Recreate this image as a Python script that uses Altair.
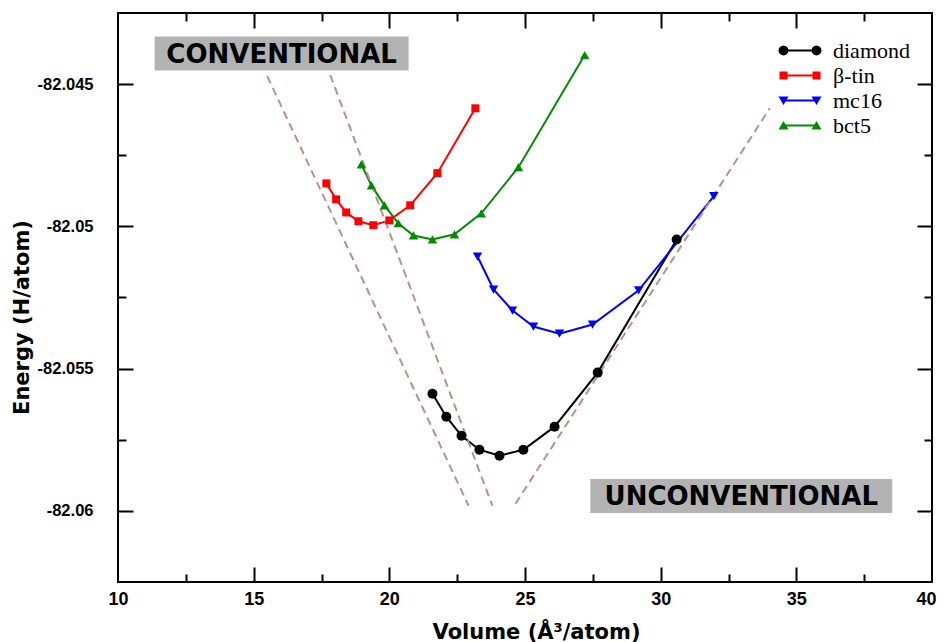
import math
import altair as alt
import pandas as pd

# ---------------- data ----------------
series_names = ["diamond", "β-tin", "mc16", "bct5"]
series_colors = ["#000000", "#ff0000", "#0000ff", "#008b00"]
series_shapes = ["circle", "square", "triangle-down", "triangle-up"]
series_sizes = [100, 64, 90, 90]

diamond_volume = [21.59, 22.10, 22.66, 23.32, 24.06, 24.94, 26.09, 27.68, 30.59]
diamond_energy = [-82.05588, -82.05669, -82.05736, -82.05785, -82.05806, -82.05785, -82.05704, -82.05514, -82.05046]
btin_volume = [17.68, 18.04, 18.41, 18.86, 19.41, 20.00, 20.77, 21.77, 23.17]
btin_energy = [-82.04849, -82.04905, -82.04951, -82.04982, -82.04996, -82.04979, -82.04926, -82.04813, -82.04585]
mc16_volume = [23.25, 23.84, 24.54, 25.31, 26.27, 27.49, 29.19, 31.96]
mc16_energy = [-82.05106, -82.05222, -82.05296, -82.05352, -82.05377, -82.05345, -82.05225, -82.04894]
bct5_volume = [18.97, 19.34, 19.82, 20.33, 20.89, 21.59, 22.40, 23.39, 24.76, 27.20]
bct5_energy = [-82.04782, -82.04856, -82.04926, -82.04989, -82.05032, -82.05046, -82.05028, -82.04954, -82.04792, -82.04398]

guide_volume = [[15.50, 22.92], [17.82, 23.80], [24.65, 34.02]]
guide_energy = [[-82.04472, -82.05982], [-82.04468, -82.05982], [-82.05975, -82.04585]]

ann_text = ["CONVENTIONAL", "UNCONVENTIONAL"]
ann_volume = [16.03, 32.97]
ann_energy = [-82.04426, -82.05981]

x_label_values = [10, 15, 20, 25, 30, 35, 40]
y_label_values = [-82.06, -82.055, -82.05, -82.045]
x_tick_values = [12.5, 15, 17.5, 20, 22.5, 25, 27.5, 30, 32.5, 35, 37.5]
y_tick_values = [-82.06, -82.0575, -82.055, -82.0525, -82.05, -82.0475, -82.045]

# ---------------- tables ----------------
rows = []
for name, vols, ens in zip(series_names,
                           [diamond_volume, btin_volume, mc16_volume, bct5_volume],
                           [diamond_energy, btin_energy, mc16_energy, bct5_energy]):
    for i, (v, e) in enumerate(zip(vols, ens)):
        rows.append({"series": name, "volume": v, "energy": e, "idx": i})
curves = pd.DataFrame(rows)

grows = []
for s, (vols, ens) in enumerate(zip(guide_volume, guide_energy)):
    for i, (v, e) in enumerate(zip(vols, ens)):
        grows.append({"seg": s, "volume": v, "energy": e, "idx": i})
guides = pd.DataFrame(grows)

ann = pd.DataFrame({"label": ann_text, "volume": ann_volume, "energy": ann_energy})

# ---------------- styling ----------------
W, H = 814, 569
x_scale = alt.Scale(domain=[10, 40], nice=False, zero=False)
y_scale = alt.Scale(domain=[-82.0625, -82.0425], nice=False, zero=False)
color_scale = alt.Scale(domain=series_names, range=series_colors)

x_label_axis = alt.Axis(
    orient="bottom", values=x_label_values, format="d", labelFlush=False,
    labelFont="Liberation Sans", labelFontWeight="bold", labelFontSize=18,
    labelColor="black", labelPadding=8, ticks=False, tickSize=0, domain=False,
    labelOffset={"condition": {"test": "datum.value === 40", "value": -6}, "value": 0},
    grid=False, title="Volume (Å³/atom)", titleFont="DejaVu Sans",
    titleFontWeight="bold", titleFontSize=21, titleColor="black",
    titleX=418, titleY=56, titleBaseline="alphabetic", titleAlign="center")

y_label_axis = alt.Axis(
    orient="left", values=y_label_values,
    labelExpr="replace(format(datum.value, '.3~f'), '\u2212', '-')",
    labelFlush=False, labelFont="Liberation Sans", labelFontWeight="bold",
    labelFontSize=16.5, labelColor="black", labelPadding=25, ticks=False,
    tickSize=0, domain=False, grid=False, title="Energy (H/atom)",
    titleFont="DejaVu Sans", titleFontWeight="bold", titleFontSize=21,
    titleColor="black", titleX=-86, titleY=304, titleBaseline="bottom",
    titleAlign="center", titleAngle=270)

x_major = "datum.value % 5 === 0"
y_major = "abs(datum.value * 200 - round(datum.value * 200)) < 0.01"


def tick_axis(orient, offset, values, test):
    return alt.Axis(orient=orient, offset=offset, values=values, labels=False,
                    domain=False, grid=False, title=None, ticks=True,
                    tickColor="black", tickWidth=2,
                    tickSize={"condition": {"test": test, "value": 15}, "value": 8})


def legend_path(kind):
    e = 1.65
    parts = [f"M{-e},-0.1H{e}V0.1H{-e}Z"]
    for cx in (-e, e):
        if kind == "circle":
            pts = [(cx + 0.5 * math.cos(2 * math.pi * i / 16), 0.5 * math.sin(2 * math.pi * i / 16)) for i in range(16)]
        elif kind == "square":
            pts = [(cx - 0.4, -0.4), (cx + 0.4, -0.4), (cx + 0.4, 0.4), (cx - 0.4, 0.4)]
        elif kind == "triangle-up":
            pts = [(cx, -0.45), (cx + 0.5, 0.4), (cx - 0.5, 0.4)]
        else:
            pts = [(cx - 0.5, -0.4), (cx + 0.5, -0.4), (cx, 0.45)]
        parts.append("M" + "L".join(f"{x:.3f},{y:.3f}" for x, y in pts) + "Z")
    return "".join(parts)


legend_paths = [legend_path(k) for k in series_shapes]

# ---------------- layers ----------------
series_layers = []
for k, (name, col, shp, sz) in enumerate(zip(series_names, series_colors, series_shapes, series_sizes)):
    src = alt.Chart(curves).transform_filter(alt.datum.series == name)
    xa = x_label_axis if k == 0 else None
    ya = y_label_axis if k == 0 else None
    series_layers.append(
        src.mark_line(strokeWidth=2, color=col).encode(
            x=alt.X("volume:Q", scale=x_scale, axis=xa),
            y=alt.Y("energy:Q", scale=y_scale, axis=ya),
            order="idx:Q",
        )
    )

guides_layer = alt.Chart(guides).mark_line(
    strokeDash=[8, 5], strokeWidth=2, color="#bc8f8f"
).encode(
    x=alt.X("volume:Q", scale=x_scale, axis=tick_axis("top", -H, x_tick_values, x_major)),
    y=alt.Y("energy:Q", scale=y_scale, axis=tick_axis("right", -W, y_tick_values, y_major)),
    detail="seg:N",
    order="idx:Q",
)

box_half = {"CONVENTIONAL": 127, "UNCONVENTIONAL": 151}
boxes = []
for j, label in enumerate(ann_text):
    hw = box_half[label]
    xa = tick_axis("bottom", -H, x_tick_values, x_major) if j == 0 else None
    ya = tick_axis("left", -W, y_tick_values, y_major) if j == 0 else None
    boxes.append(
        alt.Chart(ann).transform_filter(alt.datum.label == label).mark_rect(
            color="#b3b3b3", xOffset=-hw, x2Offset=hw, yOffset=-26.5, y2Offset=7.5
        ).encode(
            x=alt.X("volume:Q", scale=x_scale, axis=xa),
            x2="volume:Q",
            y=alt.Y("energy:Q", scale=y_scale, axis=ya),
            y2="energy:Q",
        )
    )

texts = alt.Chart(ann).mark_text(
    font="DejaVu Sans", fontWeight="bold", fontSize=26, color="black",
    baseline="alphabetic", align="center"
).encode(
    x=alt.X("volume:Q", scale=x_scale, axis=None),
    y=alt.Y("energy:Q", scale=y_scale, axis=None),
    text="label:N",
)

points = []
for name, col, shp, sz in zip(series_names, series_colors, series_shapes, series_sizes):
    points.append(
        alt.Chart(curves).transform_filter(alt.datum.series == name).mark_point(
            filled=True, opacity=1, shape=shp, size=sz, color=col
        ).encode(
            x=alt.X("volume:Q", scale=x_scale, axis=None),
            y=alt.Y("energy:Q", scale=y_scale, axis=None),
        )
    )

leg = alt.Legend(
    orient="none", legendX=671, legendY=26.5, title=None,
    labelFont="Liberation Serif", labelFontSize=22, labelColor="black",
    symbolSize=400, symbolStrokeWidth=0, symbolOpacity=1, labelOffset=22,
    rowPadding=3, padding=0,
)
legend_layer = alt.Chart(curves).transform_filter("false").mark_point(
    filled=True, opacity=1, size=400
).encode(
    color=alt.Color("series:N", scale=color_scale, legend=leg),
    shape=alt.Shape("series:N", scale=alt.Scale(domain=series_names, range=legend_paths), legend=leg),
)

chart = alt.layer(
    *series_layers, guides_layer, *boxes, texts, *points, legend_layer
).resolve_axis(
    x="independent", y="independent"
).properties(
    width=W, height=H,
    padding={"left": 110, "top": 5, "right": 4, "bottom": 60},
    autosize=alt.AutoSizeParams(type="none"),
    background="white",
).configure_view(
    stroke="black", strokeWidth=2
)

chart.save("out.html", embed_options={"renderer": "svg", "actions": False})
